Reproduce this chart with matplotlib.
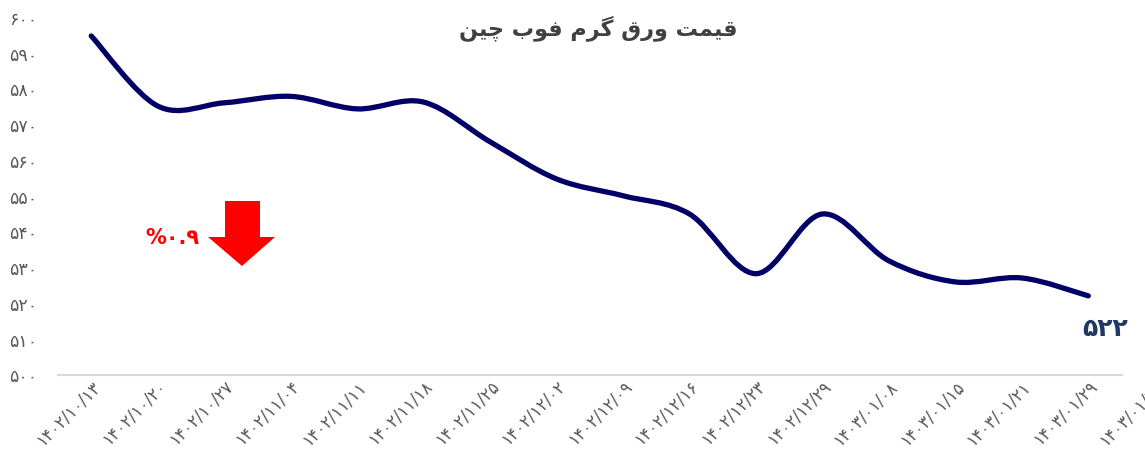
import matplotlib
matplotlib.use("Agg")
import matplotlib.pyplot as plt
from matplotlib.path import Path
from matplotlib.patches import PathPatch, Polygon

# ---- data ----
dates = ["1402/10/13", "1402/10/20", "1402/10/27", "1402/11/04", "1402/11/11",
         "1402/11/18", "1402/11/25", "1402/12/02", "1402/12/09", "1402/12/16",
         "1402/12/23", "1402/12/29", "1403/01/08", "1403/01/15", "1403/01/21",
         "1403/01/29", "1403/01/31"]
prices = [594.7, 575.1, 576.0, 577.8, 574.3, 576.2, 565.1, 554.7, 550.0, 544.9,
          528.2, 544.9, 531.8, 525.9, 527.0, 522.0]
y_ticks = [500, 510, 520, 530, 540, 550, 560, 570, 580, 590, 600]
title_text = "قیمت ورق گرم فوب چین"
change_text = "%0.9"
last_text = "522"

PERSIAN = str.maketrans("0123456789", "۰۱۲۳۴۵۶۷۸۹")

def fa(s):
    return s.translate(PERSIAN)

# minimal Arabic/Persian shaping: (isolated, final, initial, medial)
FORMS = {
    "ق": ("\uFED5", "\uFED6", "\uFED7", "\uFED8"),
    "ی": ("\uFBFC", "\uFBFD", "\uFBFE", "\uFBFF"),
    "م": ("\uFEE1", "\uFEE2", "\uFEE3", "\uFEE4"),
    "ت": ("\uFE95", "\uFE96", "\uFE97", "\uFE98"),
    "و": ("\uFEED", "\uFEEE", None, None),
    "ر": ("\uFEAD", "\uFEAE", None, None),
    "گ": ("\uFB92", "\uFB93", "\uFB94", "\uFB95"),
    "ف": ("\uFED1", "\uFED2", "\uFED3", "\uFED4"),
    "ب": ("\uFE8F", "\uFE90", "\uFE91", "\uFE92"),
    "چ": ("\uFB7A", "\uFB7B", "\uFB7C", "\uFB7D"),
    "ن": ("\uFEE5", "\uFEE6", "\uFEE7", "\uFEE8"),
}

def shape(text):
    out = []
    for i, ch in enumerate(text):
        if ch not in FORMS:
            out.append(ch)
            continue
        prev = text[i - 1] if i > 0 else " "
        nxt = text[i + 1] if i + 1 < len(text) else " "
        join_prev = prev in FORMS and FORMS[prev][2] is not None
        join_next = nxt in FORMS and FORMS[ch][2] is not None
        iso, fin, ini, med = FORMS[ch]
        if join_prev and join_next:
            out.append(med)
        elif join_prev:
            out.append(fin)
        elif join_next:
            out.append(ini)
        else:
            out.append(iso)
    return "".join(out)[::-1]

plt.rcParams["font.family"] = ["DejaVu Sans"]

W, H = 1145, 464
fig = plt.figure(figsize=(W / 100, H / 100), dpi=100)
left = 58 / W
right = 1188 / W
ax = fig.add_axes([left, (H - 375.5) / H, right - left, (375.5 - 18) / H])

n = len(dates)
xs = list(range(len(prices)))

# smooth curve (Catmull-Rom -> cubic Bezier), like Excel smoothed line
verts = [(xs[0], prices[0])]
codes = [Path.MOVETO]
for i in range(len(xs) - 1):
    p0 = (xs[i - 1], prices[i - 1]) if i > 0 else (xs[i], prices[i])
    p1 = (xs[i], prices[i])
    p2 = (xs[i + 1], prices[i + 1])
    p3 = (xs[i + 2], prices[i + 2]) if i + 2 < len(xs) else p2
    c1 = (p1[0] + (p2[0] - p0[0]) / 6, p1[1] + (p2[1] - p0[1]) / 6)
    c2 = (p2[0] - (p3[0] - p1[0]) / 6, p2[1] - (p3[1] - p1[1]) / 6)
    verts += [c1, c2, p2]
    codes += [Path.CURVE4] * 3
ax.add_patch(PathPatch(Path(verts, codes), facecolor="none", edgecolor="#000066",
                       lw=3.8, capstyle="round", joinstyle="round"))

ax.set_xlim(-0.5, n - 0.5)
ax.set_ylim(500, 600)
ax.set_yticks(y_ticks)
ax.set_yticklabels([fa(str(v)) for v in y_ticks])
ax.set_xticks(range(n))
ax.set_xticklabels([fa(d) for d in dates], rotation=45, ha="right",
                   rotation_mode="anchor")
ax.tick_params(axis="both", length=0, colors="#595959")
ax.tick_params(axis="y", pad=15, labelsize=12.5)
ax.tick_params(axis="x", pad=1, labelsize=12)
for s in ["top", "left", "right"]:
    ax.spines[s].set_visible(False)
ax.spines["bottom"].set_color("#d9d9d9")
ax.spines["bottom"].set_linewidth(1.5)
ax.spines["bottom"].set_bounds(-0.5, n - 1.5)
ax.set_facecolor("none")

# title
fig.text(598 / W, 1 - 28 / H, shape(title_text), ha="center", va="center",
         fontsize=16, fontweight="bold", color="#404040")

# change annotation
fig.text(172 / W, 1 - 238 / H, fa(change_text), ha="center", va="center",
         fontsize=15, fontweight="bold", color="#ff0000")
arrow_px = [(225, 202), (260, 202), (260, 238), (275, 238), (242, 267),
            (208, 238), (225, 238)]
fig.patches.append(Polygon([(x / 100, (H - y) / 100) for x, y in arrow_px],
                           closed=True, facecolor="#ff0000", edgecolor="none",
                           transform=fig.dpi_scale_trans))

# last value label
ax.annotate(fa(last_text), xy=(xs[-1], prices[-1]), xytext=(12, -23),
            textcoords="offset points", ha="center", va="center",
            fontsize=18, fontweight="bold", color="#1f3864")

fig.savefig("out.png", dpi=100)
